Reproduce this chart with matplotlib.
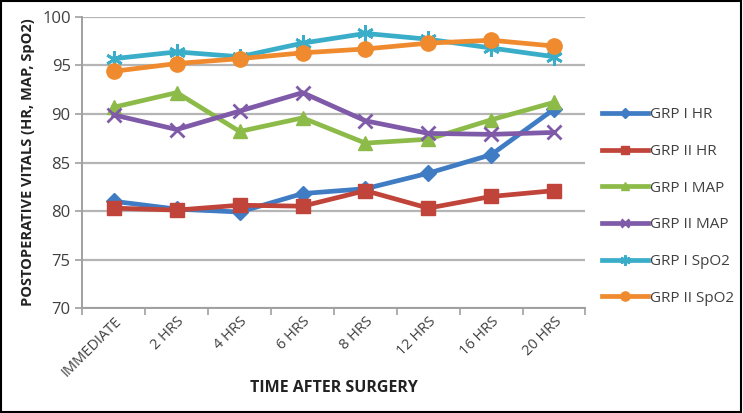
import matplotlib.pyplot as plt
from matplotlib.patches import Rectangle

# Data
times = ["IMMEDIATE", "2 HRS", "4 HRS", "6 HRS", "8 HRS", "12 HRS", "16 HRS", "20 HRS"]
grp1_hr = [81.0, 80.2, 79.9, 81.8, 82.3, 83.9, 85.8, 90.5]
grp2_hr = [80.3, 80.1, 80.6, 80.5, 82.1, 80.3, 81.5, 82.1]
grp1_map = [90.7, 92.2, 88.2, 89.6, 87.0, 87.4, 89.4, 91.2]
grp2_map = [89.9, 88.4, 90.3, 92.2, 89.3, 88.0, 87.9, 88.1]
grp1_spo2 = [95.7, 96.4, 95.9, 97.3, 98.3, 97.7, 96.8, 95.9]
grp2_spo2 = [94.4, 95.2, 95.7, 96.3, 96.7, 97.3, 97.6, 97.0]

series = [
    ("GRP I HR", grp1_hr, "#3F7CC4", "D", 8),
    ("GRP II HR", grp2_hr, "#C0443A", "s", 10),
    ("GRP I MAP", grp1_map, "#8DBB4A", "^", 10),
    ("GRP II MAP", grp2_map, "#7F5AA8", "x", 10),
    ("GRP I SpO2", grp1_spo2, "#3AADC9", (6, 2, 0), 12),
    ("GRP II SpO2", grp2_spo2, "#F08A2E", "o", 11),
]

plt.rcParams["font.family"] = ["Open Sans", "DejaVu Sans"]
text_col = "#404040"

fig = plt.figure(figsize=(7.43, 4.13), dpi=100)
ax = fig.add_axes([0.111, 0.254, 0.677, 0.705])

x = list(range(len(times)))
for name, vals, col, mk, ms in series:
    ax.plot(x, vals, color=col, linewidth=3.4, marker=mk, markersize=ms,
            markeredgewidth=2 if mk in ("x", (6, 2, 0)) else 1,
            markeredgecolor=col, label=name, solid_joinstyle="round")

ax.set_xlim(-0.5, len(times) - 0.5)
ax.set_ylim(70, 100)
ax.set_yticks(range(70, 101, 5))
ax.set_xticks(x)
ax.set_xticklabels(times, rotation=45, ha="right", rotation_mode="anchor",
                   fontsize=10.5, color=text_col)
ax.tick_params(axis="x", which="major", length=0, pad=4)
ax.set_xticks([i + 0.5 for i in range(-1, len(times))], minor=True)
ax.tick_params(axis="x", which="minor", length=5, color="#a0a0a0", width=1.2)
ax.tick_params(axis="y", labelsize=12, colors=text_col, length=5,
               width=1.2)
ax.tick_params(axis="y", color="#a0a0a0")
ax.grid(axis="y", color="#b5b5b5", linewidth=1.6)
ax.set_axisbelow(True)
for s in ["top", "right"]:
    ax.spines[s].set_visible(False)
for s in ["left", "bottom"]:
    ax.spines[s].set_color("#a0a0a0")
    ax.spines[s].set_linewidth(1.4)

ax.set_xlabel("TIME AFTER SURGERY", fontsize=11.5, fontweight="bold",
              color="#222222", labelpad=0)
ax.set_ylabel("POSTOPERATIVE VITALS (HR, MAP, SpO2)", fontsize=10.5,
              fontweight="bold", color="#222222", labelpad=5)

ax.legend(loc="upper left", bbox_to_anchor=(1.005, 0.737), frameon=False,
          fontsize=11, labelspacing=1.42, handlelength=3.0,
          handletextpad=0.15, labelcolor=text_col, markerscale=0.6)

fig.patches.append(Rectangle((0.002, 0.003), 0.995, 0.994,
                             transform=fig.transFigure, fill=False,
                             edgecolor="black", linewidth=1.5))

fig.savefig("out.png", dpi=100)
